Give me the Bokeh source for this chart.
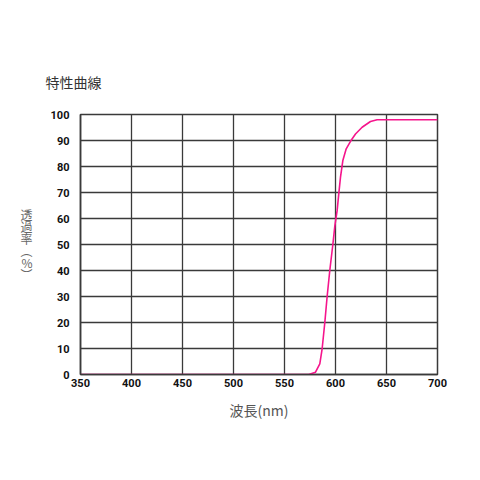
from bokeh.plotting import figure
from bokeh.models import FixedTicker, Range1d, Title
from bokeh.embed import file_html
from bokeh.resources import INLINE

# Data
wavelength = [350, 560, 573.8, 580.4, 584.6, 586.9, 589.5, 591.8, 594.4, 597.4, 599.3,
              601.6, 603.2, 604.9, 607.2, 610.5, 614.7, 619.6, 626.1, 634.3,
              640.8, 650, 700]
transmittance = [0, 0, 0, 0.9, 4.1, 9.9, 19.9, 30, 40, 50, 57,
                 63, 69.5, 75.9, 82.3, 86.8, 89.7, 92.5, 95.1, 97.3,
                 98, 98, 98]
x_ticks = [350, 400, 450, 500, 550, 600, 650, 700]
y_ticks = [0, 10, 20, 30, 40, 50, 60, 70, 80, 90, 100]
title_text = "特性曲線"
x_label = "波長(nm)"
y_label = "\n".join(["透", "過", "率", "︵", "%", "︶"])

FONT = "Noto Sans CJK JP"
GRID = "#3a3a3a"

p = figure(frame_width=357, frame_height=260,
           min_border_left=80, min_border_right=35,
           min_border_top=114, min_border_bottom=98,
           x_range=Range1d(350, 700), y_range=Range1d(0, 100),
           output_backend="svg", toolbar_location=None,
           background_fill_color="white", border_fill_color="white")

p.line(wavelength, transmittance, line_color="#f5158c", line_width=1.6)

for ax, ticks in ((p.xaxis, x_ticks), (p.yaxis, y_ticks)):
    ax.ticker = FixedTicker(ticks=ticks)
    ax.major_tick_out = 0
    ax.major_tick_in = 0
    ax.minor_tick_out = 0
    ax.minor_tick_in = 0
    ax.axis_line_color = GRID
    ax.axis_line_width = 1.5
    ax.major_label_text_font = "Roboto"
    ax.major_label_text_font_style = "bold"
    ax.major_label_text_font_size = "11px"
    ax.major_label_text_color = "#111111"
    ax.axis_label_text_font = FONT
    ax.axis_label_text_font_style = "normal"
    ax.axis_label_text_color = "#555555"
p.xaxis.major_label_standoff = 4
p.yaxis.major_label_standoff = 11

p.xaxis.axis_label = x_label
p.xaxis.axis_label_text_font_size = "14px"
p.xaxis.axis_label_standoff = 10

p.yaxis.axis_label = y_label
p.yaxis.axis_label_orientation = "horizontal"
p.yaxis.axis_label_text_font_size = "12px"
p.yaxis.axis_label_text_color = "#666666"
p.yaxis.axis_label_text_line_height = 0.7
p.yaxis.axis_label_standoff = 15

p.title.text = title_text
p.title.text_font = FONT
p.title.text_font_size = "14px"
p.title.text_font_style = "normal"
p.title.text_color = "#333333"
p.title.align = "left"
p.title.offset = -35
# spacer between title and frame
p.add_layout(Title(text="\u00a0", text_font_size="6px"), "above")

p.xgrid.ticker = FixedTicker(ticks=x_ticks)
p.ygrid.ticker = FixedTicker(ticks=y_ticks)
p.grid.grid_line_color = GRID
p.grid.grid_line_width = 1.3
p.grid.grid_line_alpha = 1.0
p.outline_line_color = GRID
p.outline_line_width = 1.5

open("out.html", "w").write(file_html(p, INLINE))
